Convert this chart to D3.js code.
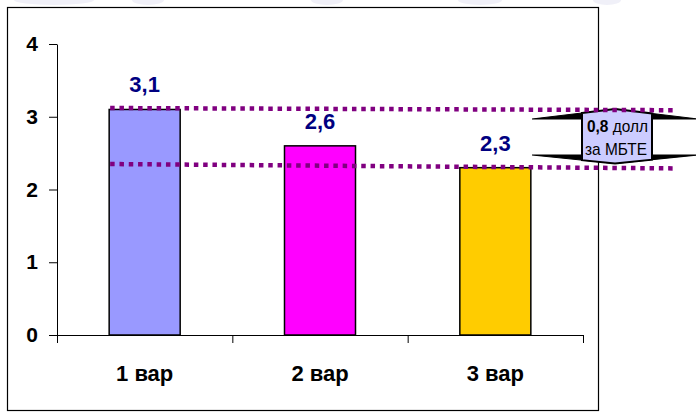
<!DOCTYPE html>
<html>
<head>
<meta charset="utf-8">
<script src="https://cdn.jsdelivr.net/npm/d3@7"></script>
<style>
  html, body { margin: 0; padding: 0; background: #fff; }
  svg { display: block; font-family: Arial, "Liberation Sans", sans-serif; }
</style>
</head>
<body>
<svg id="chart" width="696" height="417"></svg>
<script>
// ---- data ----
const categories = ["1 вар", "2 вар", "3 вар"];
const values = [3.1, 2.6, 2.3];
const barColors = ["#9999FF", "#FF00FF", "#FFCC00"];
const yTicks = [0, 1, 2, 3, 4];
// dotted reference levels (start value, end value)
const refStart = [3.12, 2.35];
const refEnd = [3.09, 2.29];
const diffValue = 0.8;
const diffUnit1 = " долл";
const diffUnit2 = "за МБТЕ";

// ---- layout ----
const W = 696, H = 417;
const plot = { left: 57, right: 583, top: 44, bottom: 335 };
const fmt = v => v.toFixed(1).replace(".", ",");

const svg = d3.select("#chart");

// faint decorations at top edge
const deco = [[54, 40], [148, 16], [327, 16], [480, 22], [607, 14]];
svg.selectAll("ellipse.deco").data(deco).enter().append("ellipse")
  .attr("cx", d => d[0]).attr("cy", 0).attr("rx", d => d[1]).attr("ry", 5)
  .attr("fill", "#F0F0F8");

// frame
svg.append("rect").attr("x", 7.5).attr("y", 7.5).attr("width", 591).attr("height", 403)
  .attr("fill", "none").attr("stroke", "#000").attr("stroke-width", 1.2);

const y = d3.scaleLinear().domain([0, 4]).range([plot.bottom, plot.top]);
const xBand = d3.scaleBand().domain(categories).range([plot.left, plot.right])
  .paddingInner(0.595).paddingOuter(0.2975);
const xEdge = d3.scaleLinear().domain([0, categories.length]).range([plot.left, plot.right]);

// bars
svg.selectAll("rect.bar").data(values).enter().append("rect")
  .attr("class", "bar")
  .attr("x", (d, i) => xBand(categories[i]))
  .attr("width", xBand.bandwidth())
  .attr("y", d => y(d))
  .attr("height", d => y(0) - y(d))
  .attr("fill", (d, i) => barColors[i])
  .attr("stroke", "#000").attr("stroke-width", 1.5);

// y axis
const yAxis = svg.append("g").attr("transform", `translate(${plot.left},0)`)
  .call(d3.axisLeft(y).tickValues(yTicks).tickFormat(d3.format("d"))
    .tickSize(8).tickSizeOuter(0).tickPadding(11));
yAxis.selectAll("text").attr("font-size", 21).attr("font-weight", "bold")
  .attr("fill", "#000").attr("font-family", 'Arial, "Liberation Sans", sans-serif');
yAxis.selectAll("line,path").attr("stroke", "#000");

// x axis (ticks at category boundaries)
const xAxis = svg.append("g").attr("transform", `translate(0,${plot.bottom})`)
  .call(d3.axisBottom(xEdge).tickValues(d3.range(categories.length + 1))
    .tickFormat("").tickSize(8).tickSizeOuter(0));
xAxis.selectAll("line,path").attr("stroke", "#000");
svg.append("line").attr("x1", plot.left - 8).attr("x2", plot.left)
  .attr("y1", plot.bottom + 0.5).attr("y2", plot.bottom + 0.5).attr("stroke", "#000");

// x labels
const xLab = svg.append("g").attr("transform", `translate(0,${plot.bottom})`)
  .call(d3.axisBottom(xBand).tickSize(0).tickPadding(0));
xLab.select("path").remove();
xLab.selectAll("text").attr("y", 46).attr("dy", 0)
  .attr("font-size", 22).attr("font-weight", "bold").attr("fill", "#000")
  .attr("font-family", 'Arial, "Liberation Sans", sans-serif');

// value labels
svg.selectAll("text.val").data(values).enter().append("text")
  .attr("class", "val")
  .attr("x", (d, i) => xBand(categories[i]) + xBand.bandwidth() / 2)
  .attr("y", d => y(d) - 17)
  .attr("text-anchor", "middle")
  .attr("font-size", 22).attr("font-weight", "bold").attr("fill", "#000080")
  .text(d => fmt(d));

// callout (up-down arrow shape)
const cx = 615, bx0 = 582, bx1 = 652, ax0 = 532, ax1 = 698;
const topApex = 109, topBase = 119, botBase = 155, botApex = 163.5;
const lerpTop = x => topBase - (topBase - topApex) * (1 - Math.abs(x - cx) / (cx - ax0));
const lerpBot = x => botBase + (botApex - botBase) * (1 - Math.abs(x - cx) / (cx - ax0));
const g = svg.append("g");
g.append("path")
  .attr("d", `M${ax0},${topBase} L${cx},${topApex} L${ax1},${topBase} Z M${ax0},${botBase} L${cx},${botApex} L${ax1},${botBase} Z`)
  .attr("fill", "#000").attr("stroke", "#000").attr("stroke-width", 1.2);
g.append("path")
  .attr("d", `M${bx0},${lerpTop(bx0)} L${cx},${topApex} L${bx1},${lerpTop(bx1)} L${bx1},${lerpBot(bx1)} L${cx},${botApex} L${bx0},${lerpBot(bx0)} Z`)
  .attr("fill", "#CCCCFF").attr("stroke", "#000").attr("stroke-width", 2);
const t1 = g.append("text").attr("x", 587).attr("y", 132)
  .attr("font-size", 17).attr("fill", "#000")
  .attr("textLength", 61).attr("lengthAdjust", "spacingAndGlyphs");
t1.append("tspan").attr("font-weight", "bold").text(fmt(diffValue));
t1.append("tspan").text(diffUnit1);
g.append("text").attr("x", 585).attr("y", 154.5)
  .attr("font-size", 17).attr("fill", "#000")
  .attr("textLength", 62).attr("lengthAdjust", "spacingAndGlyphs")
  .text(diffUnit2);

// dotted reference lines
const lineX0 = xBand(categories[0]) + 1, lineX1 = 673;
svg.selectAll("line.ref").data(refStart).enter().append("line")
  .attr("class", "ref")
  .attr("x1", lineX0).attr("x2", lineX1)
  .attr("y1", d => y(d)).attr("y2", (d, i) => y(refEnd[i]))
  .attr("stroke", "#800080").attr("stroke-width", 4.5)
  .attr("stroke-dasharray", "4.5,4.8");
</script>
</body>
</html>
